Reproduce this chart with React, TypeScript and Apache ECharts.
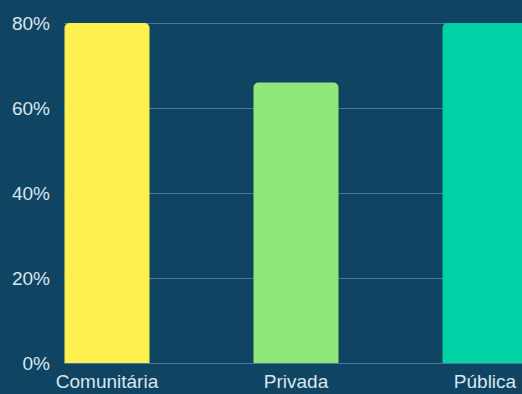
import React, { useEffect, useRef } from "react";
import * as echarts from "echarts";

const categories = ["Comunitária", "Privada", "Pública"];
const values = [80, 66, 80];
const barColors = ["#fef14f", "#90e779", "#00d2a5"];
const yTicks = [0, 20, 40, 60, 80];

export default function App() {
  const ref = useRef<HTMLDivElement>(null);
  useEffect(() => {
    if (!ref.current) return;
    const chart = echarts.init(ref.current, undefined, { renderer: "svg" });
    const textColor = "#dbe6ee";
    const font = "Liberation Sans, Arial, sans-serif";
    chart.setOption({
      animation: false,
      backgroundColor: "#0f4462",
      grid: [
        { left: 107, right: 37, top: 23, bottom: 31 },
        { left: 64, right: 0, top: 23, bottom: 31 },
      ],
      xAxis: [
        {
          type: "category",
          gridIndex: 0,
          data: categories,
          boundaryGap: false,
          axisLine: { show: false },
          axisTick: { show: false },
          splitLine: { show: false },
          axisLabel: { color: textColor, fontSize: 19, fontFamily: font, margin: 9 },
        },
        {
          type: "value",
          gridIndex: 1,
          show: false,
        },
      ],
      yAxis: [
        {
          type: "value",
          gridIndex: 0,
          min: yTicks[0],
          max: yTicks[yTicks.length - 1],
          interval: 20,
          show: false,
        },
        {
          type: "value",
          gridIndex: 1,
          min: yTicks[0],
          max: yTicks[yTicks.length - 1],
          interval: 20,
          axisLine: { show: false },
          axisTick: { show: false },
          splitLine: { show: true, lineStyle: { color: "#497a97", width: 1 } },
          axisLabel: {
            color: textColor,
            fontSize: 19,
            fontFamily: font,
            margin: 14,
            formatter: "{value}%",
          },
        },
      ],
      series: [
        {
          type: "bar",
          xAxisIndex: 0,
          yAxisIndex: 0,
          barWidth: 85,
          data: values.map((v, i) => ({
            value: v,
            itemStyle: { color: barColors[i], borderRadius: [5, 5, 0, 0] },
          })),
        },
      ],
    });
    return () => chart.dispose();
  }, []);
  return (
    <div
      ref={ref}
      style={{ position: "fixed", left: 0, top: 0, width: 522, height: 394 }}
    />
  );
}
